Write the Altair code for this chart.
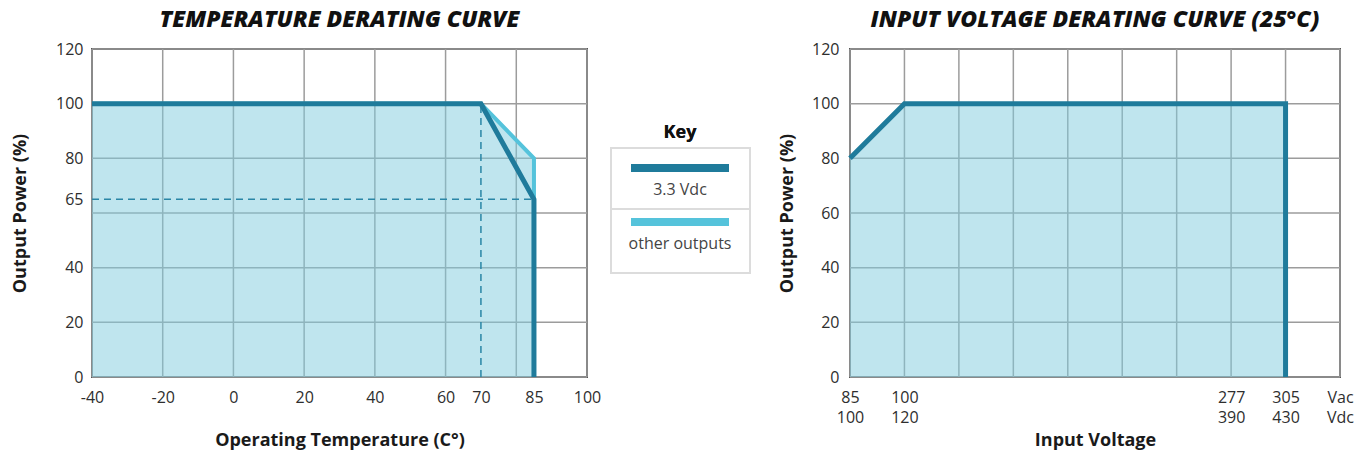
import altair as alt
import pandas as pd

# ---------------- data ----------------
series_names = ["3.3 Vdc", "other outputs"]
series_colors = ["#1f7b9b", "#55c3db"]

temp_x = [-40, 70, 85, 85]
power_33 = [100, 100, 65, 0]
power_other = [100, 100, 80, 0]

temp_ticks = [-40, -20, 0, 20, 40, 60, 70, 85, 100]
temp_grid = [-40, -20, 0, 20, 40, 60, 80, 100]
power_ticks = [0, 20, 40, 65, 80, 100, 120]
power_grid = [0, 20, 40, 60, 80, 100, 120]

knee_temp = [70]
knee_power = [65]
knee_top = [100]
knee_end = [85]

volt_idx = [0, 1, 8, 8]
volt_power = [80, 100, 100, 0]
volt_grid = list(range(10))
vac_labels = ["85", "100", "", "", "", "", "", "277", "305", "Vac"]
vdc_labels = ["100", "120", "", "", "", "", "", "390", "430", "Vdc"]

FONT = "Open Sans"
GRID = "#9c9c9c"
FILL = "#7fcbdd"
DASH = "#2a86a6"
LBL = "#2e2e2e"
TTL = "#1a1a1a"

color_scale = alt.Scale(domain=series_names, range=series_colors)

# ---------------- temperature chart ----------------
temp_df = pd.DataFrame({
    "t": temp_x * 2,
    "p": power_33 + power_other,
    "series": [series_names[0]] * 4 + [series_names[1]] * 4,
    "o": list(range(4)) * 2,
})
area_df = pd.DataFrame({"t": temp_x[:3], "p": power_other[:3]})

xs_t = alt.Scale(domain=[-40, 100], nice=False, zero=False)
ys = alt.Scale(domain=[0, 120], nice=False)

x_axis_t = alt.Axis(values=temp_ticks, grid=False, ticks=False, domain=False, labelFlush=False,
                    labelExpr="toString(datum.value)",
                    labelPadding=12, labelFontSize=16, labelColor=LBL, labelFont=FONT,
                    title="Operating Temperature (C°)", titleFont=FONT, titleFontSize=18,
                    titleFontWeight="bold", titleColor=TTL, titlePadding=26)
y_axis_t = alt.Axis(values=power_ticks, grid=False, ticks=False, domain=False,
                    labelPadding=9, labelFontSize=16, labelColor=LBL, labelFont=FONT,
                    title="Output Power (%)", titleFont=FONT, titleFontSize=18,
                    titleFontWeight="bold", titleColor=TTL, titlePadding=26)

vgrid_t = alt.Chart(pd.DataFrame({"g": temp_grid})).mark_rule(color=GRID, strokeWidth=1.5).encode(
    x=alt.X("g:Q", scale=xs_t, axis=x_axis_t))
hgrid_t = alt.Chart(pd.DataFrame({"g": power_grid})).mark_rule(color=GRID, strokeWidth=1.5).encode(
    y=alt.Y("g:Q", scale=ys, axis=y_axis_t))
area_t = alt.Chart(area_df).mark_area(color=FILL, opacity=0.5).encode(
    x=alt.X("t:Q", scale=xs_t), y=alt.Y("p:Q", scale=ys))
dash_h = alt.Chart(pd.DataFrame({"x1": [-40], "x2": knee_end, "y": knee_power})).mark_rule(
    color=DASH, strokeWidth=1.5, strokeDash=[7, 5]).encode(
    x=alt.X("x1:Q", scale=xs_t), x2="x2:Q", y=alt.Y("y:Q", scale=ys))
dash_v = alt.Chart(pd.DataFrame({"x": knee_temp, "y1": [0], "y2": knee_top})).mark_rule(
    color=DASH, strokeWidth=1.5, strokeDash=[7, 5]).encode(
    x=alt.X("x:Q", scale=xs_t), y=alt.Y("y1:Q", scale=ys), y2="y2:Q")
line_other = alt.Chart(temp_df[temp_df.series == series_names[1]]).mark_line(strokeWidth=4).encode(
    x=alt.X("t:Q", scale=xs_t), y=alt.Y("p:Q", scale=ys), order="o:Q",
    color=alt.Color("series:N", scale=color_scale, legend=None))
line_33 = alt.Chart(temp_df[temp_df.series == series_names[0]]).mark_line(strokeWidth=5).encode(
    x=alt.X("t:Q", scale=xs_t), y=alt.Y("p:Q", scale=ys), order="o:Q",
    color=alt.Color("series:N", scale=color_scale, legend=None))

temp_chart = alt.layer(vgrid_t, hgrid_t, area_t, dash_h, dash_v, line_other, line_33).properties(
    width=495, height=328,
    view=alt.ViewBackground(stroke="#555", strokeWidth=2),
    title=alt.TitleParams("TEMPERATURE DERATING CURVE", font=FONT, fontSize=23, fontWeight=800,
                          fontStyle="italic", color="#111", anchor="middle", offset=9),
)

# ---------------- key panel ----------------
key_df = pd.DataFrame({"series": series_names, "i": list(range(len(series_names)))})
ky = alt.Y("i:Q", scale=alt.Scale(domain=[0, 1], range=[119, 173]), axis=None)
key_box = alt.Chart(key_df).mark_rect(fill="white", stroke="#dcdcdc", strokeWidth=2).encode(
    x=alt.value(0), x2=alt.value(139), y=alt.value(99), y2=alt.value(224))
key_div = alt.Chart(key_df).mark_rule(color="#dcdcdc", strokeWidth=2).encode(
    x=alt.value(0), x2=alt.value(139), y=alt.value(160))
key_title = alt.Chart(key_df).mark_text(text="Key", font=FONT, fontSize=18, fontWeight="bold",
                                        color="#111").encode(x=alt.value(69), y=alt.value(84))
key_lines = alt.Chart(key_df).mark_rule(strokeWidth=8).encode(
    x=alt.value(20), x2=alt.value(118), y=ky,
    color=alt.Color("series:N", scale=color_scale, legend=None))
key_text = alt.Chart(key_df).mark_text(font=FONT, fontSize=16, color="#444", dy=21.5).encode(
    x=alt.value(69), y=ky, text="series:N")
key_panel = alt.layer(key_box, key_div, key_title, key_lines, key_text).properties(
    width=158, height=328, view=alt.ViewBackground(stroke="transparent"))

# ---------------- input voltage chart ----------------
volt_df = pd.DataFrame({"v": volt_idx, "p": volt_power, "o": list(range(4))})
xs_v = alt.Scale(domain=[0, 9], nice=False, zero=False)
label_pairs = "[" + ",".join("['%s','%s']" % (a, b) for a, b in zip(vac_labels, vdc_labels)) + "]"
x_axis_v = alt.Axis(values=[i for i, l in enumerate(vac_labels) if l], grid=False, ticks=False,
                    domain=False, labelFlush=False, labelPadding=12, labelFontSize=16,
                    labelColor=LBL, labelFont=FONT, labelLineHeight=20,
                    labelExpr=label_pairs + "[datum.value]",
                    title="Input Voltage", titleFont=FONT, titleFontSize=18,
                    titleFontWeight="bold", titleColor=TTL, titlePadding=6)
y_axis_v = alt.Axis(values=power_grid, grid=False, ticks=False, domain=False,
                    labelPadding=11, labelFontSize=16, labelColor=LBL, labelFont=FONT,
                    title="Output Power (%)", titleFont=FONT, titleFontSize=18,
                    titleFontWeight="bold", titleColor=TTL, titlePadding=15)

vgrid_v = alt.Chart(pd.DataFrame({"g": volt_grid})).mark_rule(color=GRID, strokeWidth=1.5).encode(
    x=alt.X("g:Q", scale=xs_v, axis=x_axis_v))
hgrid_v = alt.Chart(pd.DataFrame({"g": power_grid})).mark_rule(color=GRID, strokeWidth=1.5).encode(
    y=alt.Y("g:Q", scale=ys, axis=y_axis_v))
area_v = alt.Chart(volt_df.iloc[:3]).mark_area(color=FILL, opacity=0.5).encode(
    x=alt.X("v:Q", scale=xs_v), y=alt.Y("p:Q", scale=ys))
line_v = alt.Chart(volt_df).mark_line(strokeWidth=5, color=series_colors[0]).encode(
    x=alt.X("v:Q", scale=xs_v), y=alt.Y("p:Q", scale=ys), order="o:Q")

volt_chart = alt.layer(vgrid_v, hgrid_v, area_v, line_v).properties(
    width=490, height=328,
    view=alt.ViewBackground(stroke="#555", strokeWidth=2),
    title=alt.TitleParams("INPUT VOLTAGE DERATING CURVE (25°C)", font=FONT, fontSize=23,
                          fontWeight=800, fontStyle="italic", color="#111", anchor="middle",
                          offset=9),
)

chart = alt.hconcat(temp_chart, key_panel, volt_chart, spacing=7).properties(
    padding={"left": 2, "top": 0, "right": 0, "bottom": 0}
).configure_view(stroke="transparent")

chart.save("out.html", embed_options={"renderer": "svg", "actions": False})
